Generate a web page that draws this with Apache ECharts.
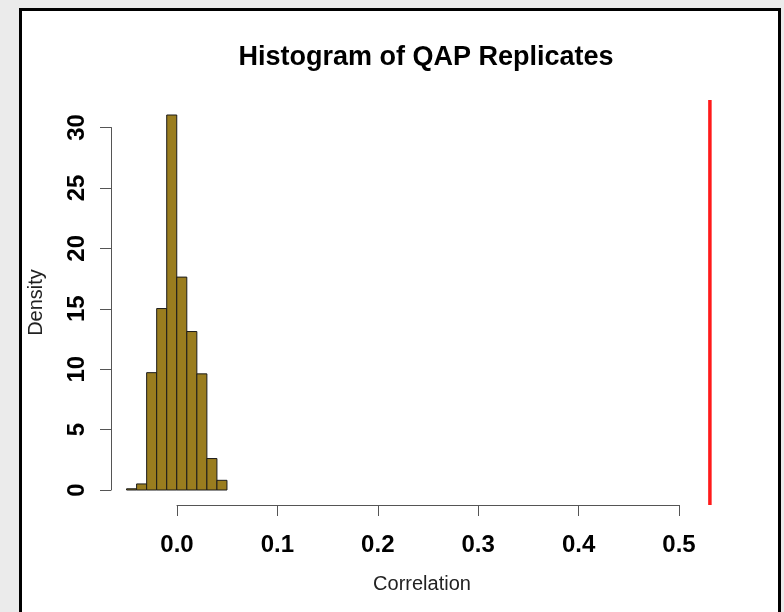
<!DOCTYPE html>
<html>
<head>
<meta charset="utf-8">
<script src="https://cdn.jsdelivr.net/npm/echarts@6/dist/echarts.min.js"></script>
<style>
html, body { margin: 0; padding: 0; background: #ebebeb; }
#main { width: 784px; height: 612px; }
</style>
</head>
<body>
<div id="main"></div>
<script>
// histogram breaks (left edges) and densities
var binStarts = [-0.05, -0.04, -0.03, -0.02, -0.01, 0.00, 0.01, 0.02, 0.03, 0.04];
var binWidth = 0.01;
var densities = [0.1, 0.5, 9.7, 15.0, 31.0, 17.6, 13.1, 9.6, 2.6, 0.8];
// observed correlation (red line)
var observed = 0.531;
var xTicks = [0.0, 0.1, 0.2, 0.3, 0.4, 0.5];
var yTicks = [0, 5, 10, 15, 20, 25, 30];

var fontFam = '"Liberation Sans", Arial, Helvetica, sans-serif';
var axisCol = '#555';

var bins = binStarts.map(function (s, i) {
	return [s, s + binWidth, densities[i]];
});

var chart = echarts.init(document.getElementById('main'));
chart.setOption({
	backgroundColor: '#ebebeb',
	animation: false,
	graphic: [{
		type: 'rect', z: -10,
		shape: { x: 20.5, y: 9.5, width: 759, height: 700 },
		style: { fill: '#fff', stroke: '#000', lineWidth: 3 }
	}],
	title: {
		text: 'Histogram of QAP Replicates',
		left: 421, top: 39, textAlign: 'center',
		textStyle: { fontFamily: fontFam, fontWeight: 'bold', fontSize: 27, color: '#000' }
	},
	grid: [
		// plot region
		{ left: 111, top: 100, width: 622, height: 405 },
		// visible axes (R style, only between first and last tick)
		{ left: 177, top: 127.5, width: 502, height: 362.5 }
	],
	xAxis: [{
		gridIndex: 0, type: 'value', min: -0.0655, max: 0.554,
		name: 'Correlation', nameLocation: 'middle', nameGap: 69,
		nameTextStyle: { fontFamily: fontFam, fontSize: 20, color: '#222' },
		axisLine: { show: false }, axisTick: { show: false },
		axisLabel: { show: false }, splitLine: { show: false }
	}, {
		gridIndex: 1, type: 'value', min: xTicks[0], max: xTicks[xTicks.length - 1], interval: 0.1, offset: 15,
		axisLine: { show: true, onZero: false, lineStyle: { color: axisCol, width: 1 } },
		axisTick: { show: true, length: 11, lineStyle: { color: axisCol } },
		axisLabel: {
			margin: 28, fontFamily: fontFam, fontWeight: 'bold', fontSize: 24, color: '#000',
			formatter: function (v) { return v.toFixed(1); }
		},
		splitLine: { show: false }
	}],
	yAxis: [{
		gridIndex: 0, type: 'value', min: -1.24, max: 32.24,
		name: 'Density', nameLocation: 'middle', nameGap: 65, nameRotate: 90,
		nameTextStyle: { fontFamily: fontFam, fontSize: 20, color: '#222' },
		axisLine: { show: false }, axisTick: { show: false },
		axisLabel: { show: false }, splitLine: { show: false }
	}, {
		gridIndex: 1, type: 'value', min: yTicks[0], max: yTicks[yTicks.length - 1], interval: 5, offset: 66,
		axisLine: { show: true, onZero: false, lineStyle: { color: axisCol, width: 1 } },
		axisTick: { show: true, length: 11, lineStyle: { color: axisCol } },
		axisLabel: {
			rotate: 90, margin: 22, fontFamily: fontFam, fontWeight: 'bold', fontSize: 24, color: '#000'
		},
		splitLine: { show: false }
	}],
	series: [{
		type: 'custom',
		xAxisIndex: 0, yAxisIndex: 0,
		data: bins,
		renderItem: function (params, api) {
			var p0 = api.coord([api.value(0), 0]);
			var p1 = api.coord([api.value(1), api.value(2)]);
			return {
				type: 'rect',
				shape: { x: p0[0], y: p1[1], width: p1[0] - p0[0], height: p0[1] - p1[1] },
				style: { fill: '#9a7d1f', stroke: '#1a1a1a', lineWidth: 1 }
			};
		}
	}, {
		type: 'line',
		xAxisIndex: 0, yAxisIndex: 0,
		data: [[observed, -1.24], [observed, 32.24]],
		symbol: 'none',
		lineStyle: { color: '#ff1a1a', width: 3.5 }
	}]
});
</script>
</body>
</html>
